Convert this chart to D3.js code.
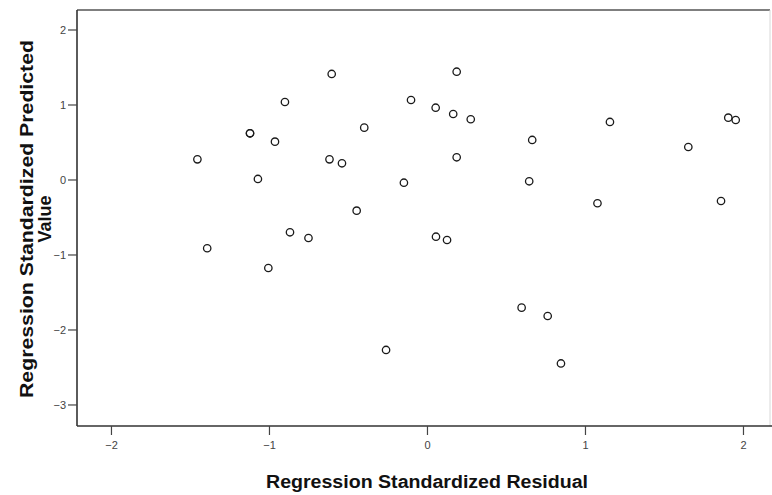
<!DOCTYPE html>
<html>
<head>
<meta charset="utf-8">
<script src="https://cdn.jsdelivr.net/npm/d3@7"></script>
<style>
  html, body { margin: 0; padding: 0; background: #ffffff; }
  svg { display: block; }
  text { font-family: "Liberation Sans", Arial, sans-serif; }
</style>
</head>
<body>
<svg id="chart" width="772" height="495"></svg>
<script>
// Data
const residuals = [-1.453, -1.391, -1.120, -1.120, -1.070, -1.004, -0.962, -0.899, -0.867, -0.750,
  -0.603, -0.617, -0.538, -0.397, -0.445, -0.259, -0.146, -0.101, 0.055, 0.057,
  0.127, 0.166, 0.188, 0.188, 0.277, 0.599, 0.647, 0.666, 0.764, 0.848,
  1.079, 1.158, 1.654, 1.861, 1.907, 1.954];
const predicted = [0.269, -0.917, 0.616, 0.616, 0.007, -1.180, 0.504, 1.033, -0.704, -0.780,
  1.407, 0.269, 0.216, 0.691, -0.416, -2.273, -0.043, 1.060, 0.957, -0.763,
  -0.807, 0.873, 1.437, 0.296, 0.803, -1.709, -0.024, 0.527, -1.820, -2.453,
  -0.317, 0.767, 0.433, -0.287, 0.824, 0.793];
const xTicks = [-2, -1, 0, 1, 2];
const yTicks = [2, 1, 0, -1, -2, -3];
const xTitle = "Regression Standardized Residual";
const yTitleLines = ["Regression Standardized Predicted", "Value"];

const svg = d3.select("#chart");
const pLeft = 77, pRight = 770, pTop = 10, pBottom = 426;

const x = d3.scaleLinear().domain([-2.215, 2.171]).range([pLeft, pRight]);
const y = d3.scaleLinear().domain([-3.287, 2.26]).range([pBottom, pTop]);

// frame
svg.append("line").attr("x1", pLeft).attr("x2", pRight).attr("y1", pTop).attr("y2", pTop)
  .attr("stroke", "#555").attr("stroke-width", 1.5);
svg.append("line").attr("x1", pRight).attr("x2", pRight).attr("y1", pTop).attr("y2", pBottom)
  .attr("stroke", "#d8d8d8").attr("stroke-width", 1);

// axes
const xAxis = d3.axisBottom(x).tickValues(xTicks).tickSize(9).tickPadding(6)
  .tickFormat(d3.format("d"));
const yAxis = d3.axisLeft(y).tickValues(yTicks).tickSize(9).tickPadding(2)
  .tickFormat(d3.format("d"));

const gx = svg.append("g").attr("transform", `translate(0,${pBottom})`).call(xAxis);
const gy = svg.append("g").attr("transform", `translate(${pLeft},0)`).call(yAxis);

[gx, gy].forEach(g => {
  g.select(".domain").attr("stroke", "#333").attr("stroke-width", 1.6);
  g.selectAll(".tick line").attr("stroke", "#444").attr("stroke-width", 1.2);
  g.selectAll(".tick text").attr("fill", "#444").style("font-size", "11px")
    .style("font-family", "'Liberation Sans', Arial, sans-serif");
});
// extend the domain lines to the frame corners
gx.select(".domain").attr("d", `M${pLeft},0H${pRight + 2}`);
gy.select(".domain").attr("d", `M0,${pTop}V${pBottom}`);

// points
svg.append("g").selectAll("circle")
  .data(residuals.map((r, i) => ({ r, p: predicted[i] })))
  .join("circle")
  .attr("cx", d => x(d.r))
  .attr("cy", d => y(d.p))
  .attr("r", 3.7)
  .attr("fill", "none")
  .attr("stroke", "#1a1a1a")
  .attr("stroke-width", 1.3);

// x title
svg.append("text")
  .attr("x", 427).attr("y", 488)
  .attr("text-anchor", "middle")
  .attr("textLength", 322).attr("lengthAdjust", "spacingAndGlyphs")
  .style("font-size", "18px").style("font-weight", "bold").attr("fill", "#111")
  .text(xTitle);

// y title (two lines, rotated)
const yt = svg.append("text")
  .attr("transform", "translate(0,219) rotate(-90)")
  .attr("text-anchor", "middle")
  .style("font-size", "18px").style("font-weight", "bold").attr("fill", "#111");
yt.append("tspan").attr("x", 0).attr("y", 33)
  .attr("textLength", 358).attr("lengthAdjust", "spacingAndGlyphs")
  .text(yTitleLines[0]);
yt.append("tspan").attr("x", 0).attr("y", 51).text(yTitleLines[1]);
</script>
</body>
</html>
